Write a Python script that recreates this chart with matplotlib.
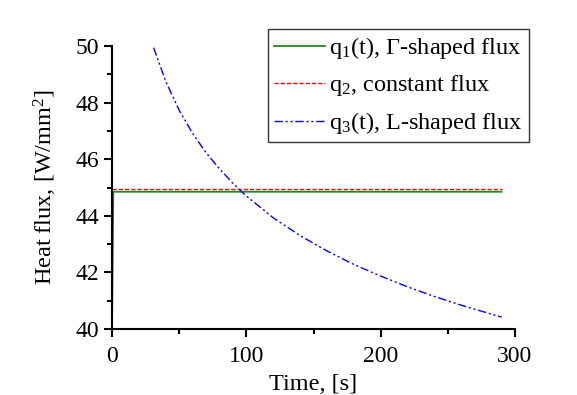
import matplotlib
matplotlib.use("Agg")
import matplotlib.pyplot as plt
from matplotlib import rcParams
from matplotlib.ticker import MultipleLocator

# --- Configuration ---
rcParams['font.family'] = ['Liberation Serif', 'DejaVu Serif']
rcParams['mathtext.fontset'] = 'custom'
rcParams['mathtext.rm'] = 'Liberation Serif'
rcParams['mathtext.it'] = 'Liberation Serif:italic'
rcParams['mathtext.default'] = 'rm'

# q1(t): Gamma-shaped flux (sharp rise at t=0, then flat)
q1_time = [0, 1, 290]
q1_flux = [40.0, 44.85, 44.85]

# q2: constant flux
q2_time = [0, 290]
q2_flux = [44.93, 44.93]

# q3(t): L-shaped flux
q3_time = [31, 40, 50, 60, 70, 80, 90, 100, 120, 140, 160, 180,
           200, 220, 240, 260, 280, 290]
q3_flux = [49.94, 48.75, 47.73, 46.91, 46.23, 45.66, 45.15, 44.70,
           43.93, 43.30, 42.76, 42.28, 41.87, 41.49, 41.15, 40.84,
           40.56, 40.42]

x_ticks = [0, 100, 200, 300]
y_ticks = [40, 42, 44, 46, 48, 50]

fig = plt.figure(figsize=(5.77, 3.95), dpi=100)
ax = fig.add_axes([112 / 577, 1 - 329 / 395, 403 / 577, 283 / 395])

ax.plot(q1_time, q1_flux, color='#1a8a1a', linewidth=1.3,
        label=r'q$_1$(t), Γ-shaped flux')
ax.plot(q2_time, q2_flux, color='red', linewidth=1.0, dashes=(3, 1.5),
        label=r'q$_2$, constant flux')
ax.plot(q3_time, q3_flux, color='blue', linewidth=1.0,
        dashes=(6, 2, 1.5, 2, 1.5, 2),
        label=r'q$_3$(t), L-shaped flux')

ax.set_xlim(0, 300)
ax.set_ylim(40, 50)
ax.set_xticks(x_ticks)
ax.set_yticks(y_ticks)
ax.xaxis.set_minor_locator(MultipleLocator(50))
ax.yaxis.set_minor_locator(MultipleLocator(1))

for side in ['top', 'right']:
    ax.spines[side].set_visible(False)
for side in ['left', 'bottom']:
    ax.spines[side].set_linewidth(1.5)

ax.tick_params(which='major', direction='out', length=6, width=1.5,
               labelsize=17)
ax.tick_params(which='minor', direction='out', length=3.5, width=1.5)
ax.tick_params(axis='x', which='major', pad=6)
ax.tick_params(axis='y', which='major', pad=3)

ax.set_xlabel('Time, [s]', fontsize=17.5, labelpad=5)
ax.set_ylabel(r'Heat flux, [W/mm$^2$]', fontsize=17.5, labelpad=12)

leg = ax.legend(loc='upper right', bbox_to_anchor=(529 / 577, 1 - 29 / 395),
                bbox_transform=fig.transFigure, borderaxespad=0,
                fontsize=17.5, frameon=True, fancybox=False,
                handlelength=2.1, handletextpad=0.2, labelspacing=0.5,
                borderpad=0.25)
leg.get_frame().set_edgecolor('black')
leg.get_frame().set_linewidth(1.0)

fig.savefig('out.png', dpi=100)
